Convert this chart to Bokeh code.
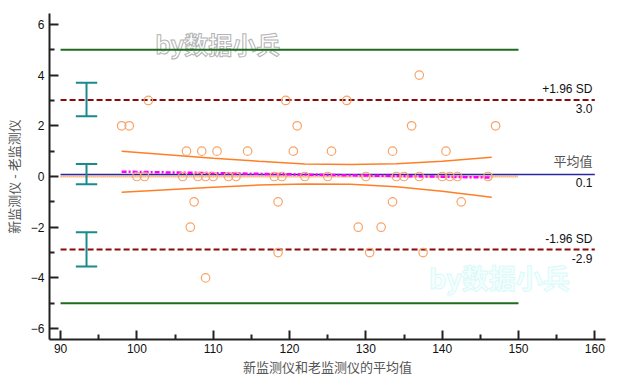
from bokeh.plotting import figure
from bokeh.models import FixedTicker, Range1d, Label
from bokeh.core.properties import value
from bokeh.embed import file_html
from bokeh.resources import INLINE

# ---- data: mean of the two monitors (x) and difference new - old (y)
means = [137,
         101.5, 119.5, 127.5,
         98, 99, 121, 136, 147,
         106.5, 108.5, 110.5, 114.5, 120.5, 125.5, 133.5, 140.5,
         100, 101, 106, 108, 109, 110, 112, 113, 118, 119, 122, 125, 130, 134, 135, 137, 140, 141, 142, 146,
         107.5, 118.5, 133.5, 142.5,
         107, 129, 132,
         118.5, 130.5, 137.5,
         109]
diffs = [4,
         3, 3, 3,
         2, 2, 2, 2, 2,
         1, 1, 1, 1, 1, 1, 1, 1,
         0, 0, 0, 0, 0, 0, 0, 0, 0, 0, 0, 0, 0, 0, 0, 0, 0, 0, 0, 0,
         -1, -1, -1, -1,
         -2, -2, -2,
         -3, -3, -3,
         -4]

mean_diff = 0.08
loa_upper = 3.02
loa_lower = -2.88
clin_limit = 5.0

ci_x = 93.4
ci_upper = [2.38, 3.70]
ci_mean = [-0.31, 0.49]
ci_lower = [-3.55, -2.20]

reg_x = [98, 146.5]
reg_y = [0.19, -0.04]

band_x = [98, 104, 110, 116, 122, 128, 134, 140, 146.5]
band_hi = [1.00, 0.86, 0.72, 0.60, 0.49, 0.47, 0.50, 0.60, 0.76]
band_lo = [-0.62, -0.52, -0.42, -0.34, -0.30, -0.31, -0.40, -0.58, -0.82]

x_ticks = [90, 100, 110, 120, 130, 140, 150, 160]
x_minor = [95, 105, 115, 125, 135, 145, 155]
y_ticks = [-6, -4, -2, 0, 2, 4, 6]
y_minor = [-5, -3, -1, 1, 3, 5]

x_lo, x_hi = 90, 160
eq_end = 150

p = figure(width=612, height=378, output_backend="svg", toolbar_location=None,
           x_range=Range1d(88.55, 161.4), y_range=Range1d(-6.43, 6.43))
p.min_border_left = 48
p.min_border_right = 7
p.min_border_top = 13
p.min_border_bottom = 38
p.outline_line_color = None
p.xgrid.visible = False
p.ygrid.visible = False

for ax in (p.xaxis[0], p.yaxis[0]):
    ax.axis_line_width = 2
    ax.axis_line_color = "#222222"
    ax.major_tick_line_width = 2
    ax.minor_tick_line_width = 2
    ax.major_tick_line_color = "#222222"
    ax.minor_tick_line_color = "#222222"
    ax.major_tick_in = 9
    ax.major_tick_out = 0
    ax.minor_tick_in = 5
    ax.minor_tick_out = 0
    ax.major_label_text_font = "Liberation Sans"
    ax.major_label_text_font_size = "12px"
    ax.major_label_text_color = "#111111"
    ax.axis_label_text_font = "Noto Sans CJK SC"
    ax.axis_label_text_font_size = "13px"
    ax.axis_label_text_font_style = "normal"
    ax.axis_label_text_color = "#555555"

p.xaxis.ticker = FixedTicker(ticks=x_ticks, minor_ticks=x_minor)
p.yaxis.ticker = FixedTicker(ticks=y_ticks, minor_ticks=y_minor)
p.xaxis.axis_label = "新监测仪和老监测仪的平均值"
p.yaxis.axis_label = "新监测仪 - 老监测仪"
p.xaxis.major_label_standoff = 4
p.xaxis.axis_label_standoff = 1
p.yaxis.major_label_standoff = 5
p.yaxis.axis_label_standoff = 5

# watermarks
p.text(x=[110.6], y=[5.25], text=["by数据小兵"], text_font=value("Noto Sans CJK SC"),
       text_font_size="24px", text_font_style="bold", text_color="#ffffff",
       text_outline_color="#b4b4b4", text_align="center", text_baseline="middle")
p.text(x=[147.5], y=[-4.0], text=["by数据小兵"], text_font=value("Noto Sans CJK SC"),
       text_font_size="27px", text_font_style="bold", text_color="#f5ffff",
       text_outline_color="#daf9f9", text_align="center", text_baseline="middle")

# clinical limits
for yv in (clin_limit, -clin_limit):
    p.line([x_lo, eq_end], [yv, yv], line_color="#1f6b1f", line_width=2)

# limits of agreement
for yv in (loa_upper, loa_lower):
    p.line([x_lo, x_hi], [yv, yv], line_color="#8b0a0a", line_width=2, line_dash="6 3")

# line of equality
p.line([x_lo, eq_end], [0, 0], line_color="#ff7f27", line_width=2, line_dash="1 1")
# mean difference
p.line([x_lo, x_hi], [mean_diff, mean_diff], line_color="#2828a0", line_width=1.5)

# regression and confidence band
p.line(reg_x, reg_y, line_color="#ff00ff", line_width=2.5, line_dash="5 2 2 2")
p.line(band_x, band_hi, line_color="#ff7f27", line_width=1.5)
p.line(band_x, band_lo, line_color="#ff7f27", line_width=1.5)

# points
p.scatter(means, diffs, marker="circle", size=8.5, fill_color=None,
          line_color="#f8a468", line_width=1.2)

# confidence bars
cap = 1.4
for lo, hi in (ci_upper, ci_mean, ci_lower):
    p.segment(x0=[ci_x, ci_x - cap, ci_x - cap], y0=[lo, lo, hi],
              x1=[ci_x, ci_x + cap, ci_x + cap], y1=[hi, lo, hi],
              line_color="#1a8a8a", line_width=2)

# labels
lab_x = 159.7
def lab(txt, yv, base, color="#111111", font="Liberation Sans", size="12px"):
    p.add_layout(Label(x=lab_x, y=yv, text=txt, text_align="right", text_baseline=base,
                       text_font=font, text_font_size=size, text_color=color,
                       y_offset=4 if base == "bottom" else -4))

lab("+1.96 SD", loa_upper, "bottom")
lab(f"{loa_upper:.1f}", loa_upper, "top")
lab("平均值", mean_diff, "bottom", color="#555555", font="Noto Sans CJK SC", size="13px")
lab(f"{mean_diff:.1f}", mean_diff, "top")
lab("-1.96 SD", loa_lower, "bottom")
lab(f"{loa_lower:.1f}", loa_lower, "top")

open("out.html", "w").write(file_html(p, INLINE))
